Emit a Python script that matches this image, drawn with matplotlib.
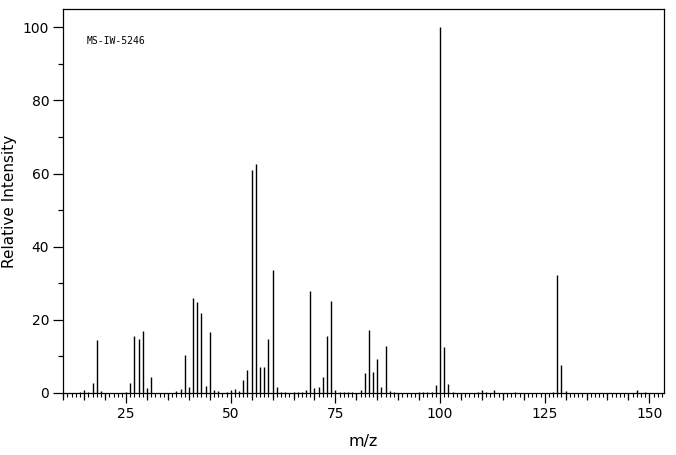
import numpy as np
import matplotlib
matplotlib.use("Agg")
import matplotlib.pyplot as plt
from matplotlib.ticker import MultipleLocator

# mass spectrum peaks
mz = [14, 15, 16, 17, 18, 19, 25, 26, 27, 28, 29, 30, 31, 37, 38, 39, 40, 41, 42,
      43, 44, 45, 46, 47, 49, 50, 51, 52, 53, 54, 55, 56, 57, 58, 59, 60, 61, 62,
      63, 65, 66, 67, 68, 69, 70, 71, 72, 73, 74, 75, 76, 77, 78, 79, 81, 82, 83,
      84, 85, 86, 87, 88, 89, 95, 96, 97, 98, 99, 100, 101, 102, 103, 109, 110,
      111, 113, 118, 127, 128, 129, 130, 147, 149]
intensity = [0.4, 0.9, 0.4, 2.8, 14.4, 0.6, 0.4, 2.8, 15.5, 14.8, 17.0, 1.5, 4.5,
             0.6, 1.0, 10.5, 1.7, 26.1, 25.0, 22.0, 2.0, 16.7, 0.9, 0.6, 0.4, 0.9,
             1.2, 0.6, 3.6, 6.3, 61.1, 62.7, 7.1, 7.1, 14.7, 33.5, 1.6, 0.3, 0.3,
             0.3, 0.3, 0.3, 0.8, 27.8, 1.4, 1.6, 4.4, 15.5, 25.1, 0.8, 0.3, 0.3,
             0.3, 0.3, 0.8, 5.5, 17.2, 5.7, 9.3, 1.6, 12.8, 0.5, 0.3, 0.3, 0.3,
             0.3, 0.3, 2.2, 100.0, 12.5, 2.5, 0.3, 0.3, 0.8, 0.3, 0.8, 0.3, 0.3,
             32.2, 7.6, 0.5, 0.8, 0.3]
x_labels = [25, 50, 75, 100, 125, 150]
y_labels = [0, 20, 40, 60, 80, 100]
sample_id = "MS-IW-5246"

fig = plt.figure(figsize=(6.76, 4.55), dpi=100)
ax = fig.add_axes([63.3 / 676, 62 / 455, (664 - 63.3) / 676, (393 - 9.3) / 455])

ax.vlines(mz, 0, intensity, color="black", lw=1.0)

ax.set_xlim(10, 153.5)
ax.set_ylim(0, 104.9)
for sp in ax.spines.values():
    sp.set_linewidth(0.9)

ax.set_xticks(x_labels)
ax.xaxis.set_minor_locator(MultipleLocator(1))
ax.set_yticks(y_labels)
ax.yaxis.set_minor_locator(MultipleLocator(10))
ax.tick_params(axis="x", which="major", length=7.2, width=0.9, labelsize=10, pad=3)
ax.tick_params(axis="x", which="minor", length=2.9, width=0.8)
ax.tick_params(axis="y", which="major", length=7.2, width=0.9, labelsize=10, pad=3)
ax.tick_params(axis="y", which="minor", length=3.6, width=0.9)

# medium ticks every 5 m/z
sec = ax.secondary_xaxis("bottom")
sec.set_xticks([v for v in range(10, 154, 5) if v % 25])
sec.tick_params(length=5.0, width=0.9, labelbottom=False)
sec.spines["bottom"].set_visible(False)

ax.set_xlabel("m/z", fontsize=11.5, labelpad=9)
ax.set_ylabel("Relative Intensity", fontsize=11, labelpad=4)
ax.text(0.039, 0.917, sample_id, transform=ax.transAxes, fontsize=7,
        family="DejaVu Sans Mono", va="center", ha="left")

fig.savefig("out.png", dpi=100)
